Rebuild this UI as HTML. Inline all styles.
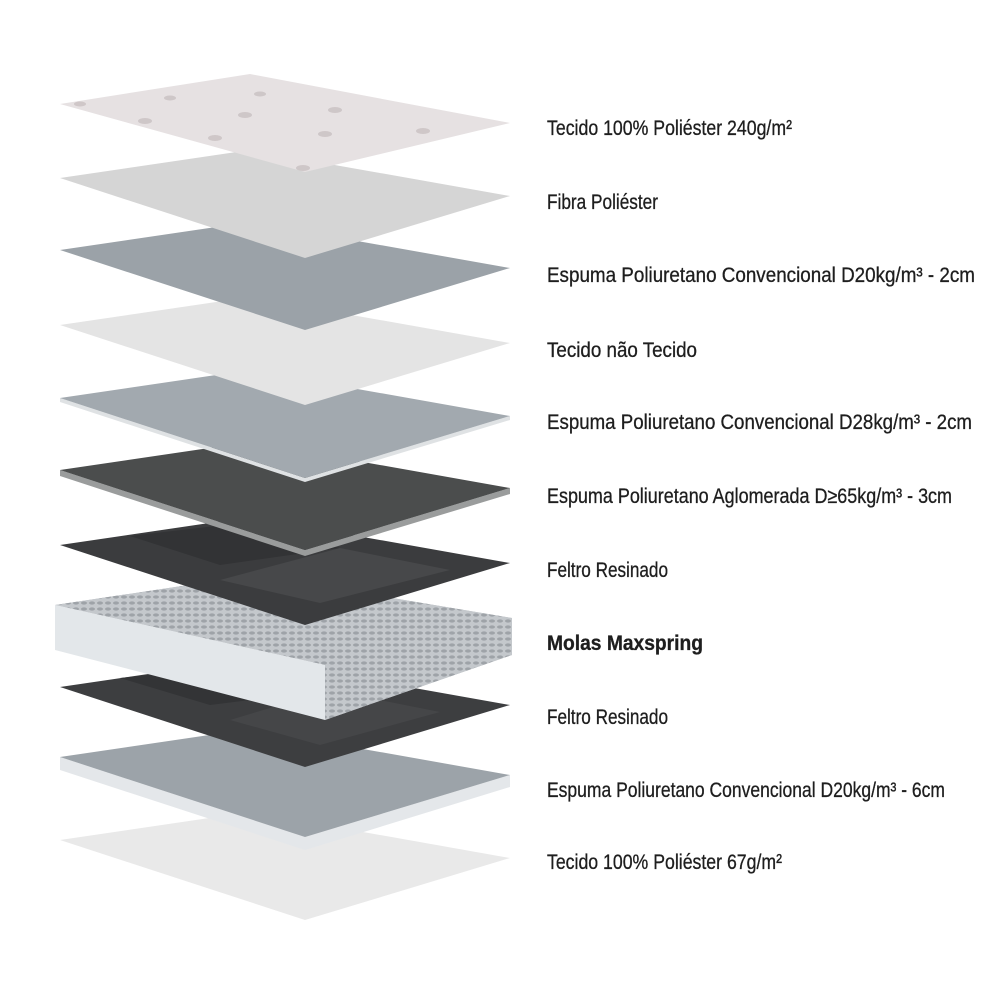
<!DOCTYPE html>
<html><head><meta charset="utf-8"><style>
html,body{margin:0;padding:0;background:#fff}
svg{display:block}
text{font-family:"Liberation Sans Narrow","Liberation Sans",sans-serif;font-size:21px;fill:#1e1e1e;stroke:#1e1e1e;stroke-width:0.3}
</style></head><body>
<svg width="1000" height="1000" viewBox="0 0 1000 1000" xmlns="http://www.w3.org/2000/svg">
<defs>
<pattern id="sp" width="8" height="6" patternUnits="userSpaceOnUse"><rect width="8" height="6" fill="#c4c8cc"/><ellipse cx="4" cy="3" rx="3" ry="1.6" fill="#9ea3a8"/></pattern>
</defs>

<polygon points="60,840 250,812 510,858 305,920" fill="#e9e9e9"/>
<polygon points="60,757 305,837 510,775 510,787 305,850 60,770" fill="#e4e7ea"/>
<polygon points="60,757 250,729 510,775 305,837" fill="#9ca3a9"/>
<polygon points="60,687 250,659 510,705 305,767" fill="#3d3e40"/>
<polygon points="120,678 240,665 330,690 210,705" fill="#333436"/>
<polygon points="230,720 330,690 440,712 320,745" fill="#454648"/>
<polygon points="55,605 255,575 512,618 512,655 325,720 325,665" fill="#b9bdc2"/>
<polygon points="55,605 255,575 512,618 325,665" fill="url(#sp)"/>
<polygon points="325,665 512,618 512,655 325,720" fill="url(#sp)"/>
<polygon points="55,605 325,665 325,720 55,650" fill="#e3e7ea"/>
<polygon points="60,545 250,517 510,563 305,625" fill="#3b3c3e"/>
<polygon points="130,536 250,522 340,548 220,565" fill="#323335"/>
<polygon points="220,580 340,548 450,570 320,603" fill="#47484a"/>
<polygon points="60,470 305,550 510,488 510,494 305,556 60,476" fill="#9a9c9c"/>
<polygon points="60,470 250,442 510,488 305,550" fill="#4b4d4d"/>
<polygon points="60,398 305,478 510,416 510,420 305,482 60,402" fill="#dfe2e4"/>
<polygon points="60,398 250,370 510,416 305,478" fill="#a2a9af"/>
<polygon points="60,325 250,297 510,343 305,405" fill="#e4e4e4"/>
<polygon points="60,250 250,222 510,268 305,330" fill="#9ba2a8"/>
<polygon points="60,178 250,150 510,196 305,258" fill="#d5d5d5"/>
<polygon points="60,104 250,74 510,123 305,172" fill="#e6e1e2"/>
<g fill="#c9c1c2" opacity="0.8">
<ellipse cx="80" cy="104" rx="6" ry="2.5"/><ellipse cx="170" cy="98" rx="6" ry="2.5"/><ellipse cx="260" cy="94" rx="6" ry="2.5"/>
<ellipse cx="145" cy="121" rx="7" ry="3"/><ellipse cx="245" cy="115" rx="7" ry="3"/><ellipse cx="335" cy="110" rx="7" ry="3"/>
<ellipse cx="215" cy="138" rx="7" ry="3"/><ellipse cx="325" cy="134" rx="7" ry="3"/><ellipse cx="423" cy="131" rx="7" ry="3"/>
<ellipse cx="303" cy="168" rx="7" ry="3"/>
</g>

<text x="547" y="135" textLength="245" lengthAdjust="spacingAndGlyphs">Tecido 100% Poliéster 240g/m²</text>
<text x="547" y="209" textLength="111" lengthAdjust="spacingAndGlyphs">Fibra Poliéster</text>
<text x="547" y="282" textLength="428" lengthAdjust="spacingAndGlyphs">Espuma Poliuretano Convencional D20kg/m³ - 2cm</text>
<text x="547" y="357" textLength="150" lengthAdjust="spacingAndGlyphs">Tecido não Tecido</text>
<text x="547" y="429" textLength="425" lengthAdjust="spacingAndGlyphs">Espuma Poliuretano Convencional D28kg/m³ - 2cm</text>
<text x="547" y="503" textLength="405" lengthAdjust="spacingAndGlyphs">Espuma Poliuretano Aglomerada D≥65kg/m³ - 3cm</text>
<text x="547" y="577" textLength="121" lengthAdjust="spacingAndGlyphs">Feltro Resinado</text>
<text x="547" y="650" textLength="156" lengthAdjust="spacingAndGlyphs" style="font-weight:bold">Molas Maxspring</text>
<text x="547" y="724" textLength="121" lengthAdjust="spacingAndGlyphs">Feltro Resinado</text>
<text x="547" y="797" textLength="398" lengthAdjust="spacingAndGlyphs">Espuma Poliuretano Convencional D20kg/m³ - 6cm</text>
<text x="547" y="869" textLength="235" lengthAdjust="spacingAndGlyphs">Tecido 100% Poliéster 67g/m²</text>
</svg>
</body></html>
